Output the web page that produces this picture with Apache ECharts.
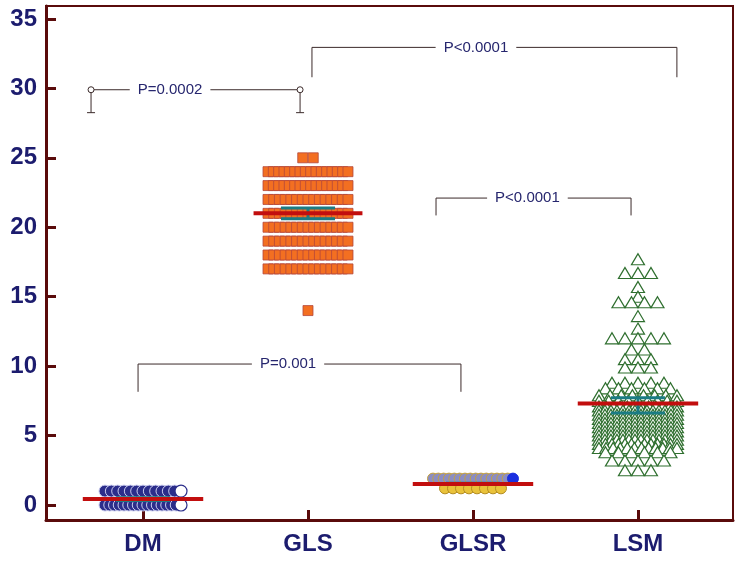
<!DOCTYPE html>
<html><head><meta charset="utf-8">
<script src="https://cdn.jsdelivr.net/npm/echarts@6/dist/echarts.min.js"></script>
<style>html,body{margin:0;padding:0;background:#fff}#c{width:735px;height:563px}</style>
</head><body><div id="c"></div>
<script>
// ---------- data ----------
const categories = ['DM', 'GLS', 'GLSR', 'LSM'];
const yTickValues = [0, 5, 10, 15, 20, 25, 30, 35];

const dmValues = [
  1,1,1,1,1,1,1,1,1,1,1,1,1,
  0,0,0,0,0,0,0,0,0,0,0,0,0,0,0,0,0
];
const glsValues = [
  25,25,
  24,24,24,24,24,24,24,24,24,24,24,24,24,24,24,24,
  23,23,23,23,23,23,23,23,23,23,23,23,23,23,23,23,
  22,22,22,22,22,22,22,22,22,22,22,22,22,22,22,
  21,21,21,21,21,21,21,21,21,21,21,21,21,21,21,
  20,20,20,20,20,20,20,20,20,20,20,20,20,20,20,
  19,19,19,19,19,19,19,19,19,19,19,19,19,19,19,
  18,18,18,18,18,18,18,18,18,18,18,18,18,18,18,
  17,17,17,17,17,17,17,17,17,17,17,17,17,17,17,
  14
];
const glsrValues = [
  1.2,1.2,1.2,1.2,1.2,1.2,1.2,1.2,
  1.9,1.9,1.9,1.9,1.9,1.9,1.9,1.9,1.9,1.9,1.9,1.9,1.9,1.9,1.9,1.9
];
const lsmValues = [
  17.7,
  16.7,16.7,16.7,
  15.7,
  15.0,
  14.6,14.6,14.6,14.6,
  13.6,
  12.7,
  12.0,12.0,12.0,12.0,12.0,
  11.2,11.2,
  10.5,10.5,10.5,
  9.9,9.9,9.9,
  8.8,8.8,8.8,8.8,8.8,
  8.4,8.4,8.4,8.4,8.4,8.4,
  7.9,7.9,7.9,7.9,7.9,7.9,7.9,7.9,
  7.5,7.5,7.5,7.5,7.5,7.5,7.5,7.5,7.5,
  7.1,7.1,7.1,7.1,7.1,7.1,7.1,7.1,7.1,7.1,7.1,7.1,
  6.8,6.8,6.8,6.8,6.8,6.8,6.8,6.8,6.8,6.8,6.8,6.8,6.8,6.8,
  6.5,6.5,6.5,6.5,6.5,6.5,6.5,6.5,6.5,6.5,6.5,6.5,6.5,6.5,
  6.2,6.2,6.2,6.2,6.2,6.2,6.2,6.2,6.2,6.2,6.2,6.2,6.2,6.2,
  5.9,5.9,5.9,5.9,5.9,5.9,5.9,5.9,5.9,5.9,5.9,5.9,5.9,5.9,
  5.6,5.6,5.6,5.6,5.6,5.6,5.6,5.6,5.6,5.6,5.6,5.6,5.6,5.6,
  5.3,5.3,5.3,5.3,5.3,5.3,5.3,5.3,5.3,5.3,5.3,5.3,5.3,5.3,
  5.0,5.0,5.0,5.0,5.0,5.0,5.0,5.0,5.0,5.0,5.0,5.0,5.0,5.0,
  4.7,4.7,4.7,4.7,4.7,4.7,4.7,4.7,4.7,4.7,4.7,4.7,4.7,4.7,
  4.4,4.4,4.4,4.4,4.4,4.4,4.4,4.4,4.4,4.4,4.4,4.4,4.4,
  4.1,4.1,4.1,4.1,4.1,4.1,4.1,4.1,4.1,4.1,4.1,4.1,
  3.8,3.8,3.8,3.8,3.8,3.8,
  3.2,3.2,3.2,3.2,3.2,
  2.5,2.5,2.5
];
const meanValues = [0.43, 21.0, 1.52, 7.3];
const ciLowValues = [0.33, 20.62, 1.48, 6.62];
const ciHighValues = [0.53, 21.38, 1.56, 7.72];
const pLabels = ['P=0.0002', 'P<0.0001', 'P<0.0001', 'P=0.001'];

// ---------- layout / style ----------
const PX_PER_UNIT = 165;
const MAROON = '#5a0b0b';
const NAVY = '#1c1c6e';
const bracketLayout = [
  { x1: 0.685, x2: 1.952, y: 29.9, drop: 28.25, tx: 1.164, caps: true },
  { x1: 2.024, x2: 4.236, y: 32.95, drop: 30.8, tx: 3.018 },
  { x1: 2.776, x2: 3.958, y: 22.1, drop: 20.85, tx: 3.33 },
  { x1: 0.97, x2: 2.927, y: 10.15, drop: 8.15, tx: 1.879 }
];

// beeswarm-like spreading: equal values are laid side by side around the category centre
function swarm(values, center, maxStepPx, maxSpanPx) {
  const groups = new Map();
  values.forEach(v => {
    const k = v.toFixed(3);
    if (!groups.has(k)) groups.set(k, []);
    groups.get(k).push(v);
  });
  const keys = Array.from(groups.keys()).sort((a, b) => parseFloat(b) - parseFloat(a));
  const out = [];
  keys.forEach(k => {
    const arr = groups.get(k);
    const n = arr.length;
    const step = n > 1 ? Math.min(maxStepPx, maxSpanPx / (n - 1)) : 0;
    arr.forEach((v, i) => {
      out.push({ value: [center + (i - (n - 1) / 2) * step / PX_PER_UNIT, v], last: i === n - 1, n: n });
    });
  });
  return out;
}

const dmPts = swarm(dmValues, 1, 8, 76).map(p => p.last
  ? { value: p.value, itemStyle: { color: '#ffffff', borderColor: '#2b2d8a', borderWidth: 1.2 } }
  : { value: p.value });
const glsPts = swarm(glsValues, 2, 10.5, 80).map(p => ({ value: p.value }));
const glsrAll = swarm(glsrValues, 3, 8, 80);
const glsrLow = glsrAll.filter(p => p.value[1] < 1.5).map(p => ({ value: p.value }));
const glsrHigh = glsrAll.filter(p => p.value[1] >= 1.5).map(p => p.last
  ? { value: p.value, itemStyle: { color: '#1a2fe0', borderColor: '#1a2fe0' } }
  : { value: p.value });
const lsmPts = swarm(lsmValues, 4, 13, 78).map(p => ({ value: p.value }));

const summaryData = categories.map((c, i) => [i + 1, meanValues[i], ciLowValues[i], ciHighValues[i], i === 1 ? 0.33 : 0.365]);
const bracketData = bracketLayout.map((b, i) => [b.x1, b.x2, b.y, b.drop, b.tx, i]);

const measureCtx = document.createElement('canvas').getContext('2d');
const LABEL_FONT = '15px "Liberation Sans", Arial, sans-serif';
measureCtx.font = LABEL_FONT;

const chart = echarts.init(document.getElementById('c'), null, { renderer: 'canvas' });
chart.setOption({
  animation: false,
  backgroundColor: '#ffffff',
  grid: { left: 46, right: 2, top: 6, bottom: 43, show: true, borderColor: MAROON, borderWidth: 2, backgroundColor: 'transparent' },
  xAxis: {
    type: 'value', min: 0.412, max: 4.576,
    splitLine: { show: false },
    axisLine: { show: true, onZero: false, lineStyle: { color: MAROON, width: 3 } },
    axisTick: { show: true, inside: true, length: 10, customValues: [1, 2, 3, 4], lineStyle: { color: MAROON, width: 3 } },
    axisLabel: {
      customValues: [1, 2, 3, 4], margin: 12,
      formatter: v => categories[Math.round(v) - 1] || '',
      color: NAVY, fontSize: 24, fontWeight: 'bold', fontFamily: '"Liberation Sans", Arial, sans-serif'
    }
  },
  yAxis: {
    type: 'value', min: -1.08, max: 35.93,
    splitLine: { show: false },
    axisLine: { show: true, onZero: false, lineStyle: { color: MAROON, width: 3 } },
    axisTick: { show: true, inside: true, length: 10, customValues: yTickValues, lineStyle: { color: MAROON, width: 3 } },
    axisLabel: {
      customValues: yTickValues, margin: 9,
      color: NAVY, fontSize: 24, fontWeight: 'bold', fontFamily: '"Liberation Sans", Arial, sans-serif'
    }
  },
  series: [
    { type: 'scatter', name: 'DM', data: dmPts, symbol: 'circle', symbolSize: 12, z: 3,
      itemStyle: { color: '#2b2d8a', borderColor: '#c9cbee', borderWidth: 1, opacity: 1 } },
    { type: 'scatter', name: 'GLS', data: glsPts, symbol: 'rect', symbolSize: [10, 10], z: 3,
      itemStyle: { color: '#f36f21', borderColor: '#b4473c', borderWidth: 0.8, opacity: 1 } },
    { type: 'scatter', name: 'GLSR-low', data: glsrLow, symbol: 'circle', symbolSize: 11, z: 3,
      itemStyle: { color: '#e9c23a', borderColor: '#b38c22', borderWidth: 1, opacity: 1 } },
    { type: 'scatter', name: 'GLSR', data: glsrHigh, symbol: 'circle', symbolSize: 11, z: 3,
      itemStyle: { color: '#8b8dc2', borderColor: '#c7a23a', borderWidth: 1, opacity: 1 } },
    { type: 'scatter', name: 'LSM', data: lsmPts, symbol: 'triangle', symbolSize: [13, 11], z: 3,
      itemStyle: { color: '#ffffff', borderColor: '#2f6f2f', borderWidth: 1.2, opacity: 1 } },
    { type: 'custom', name: 'summary', z: 5, data: summaryData,
      renderItem: (params, api) => {
        const c = api.value(0), m = api.value(1), lo = api.value(2), hi = api.value(3), hw = api.value(4);
        const ciHw = 27 / PX_PER_UNIT;
        const a = api.coord([c - ciHw, hi]), b = api.coord([c + ciHw, hi]);
        const d = api.coord([c - ciHw, lo]), e = api.coord([c + ciHw, lo]);
        const p1 = api.coord([c - hw, m]), p2 = api.coord([c + hw, m]);
        const teal = { stroke: '#1b7c84', lineWidth: 3 };
        return { type: 'group', children: [
          { type: 'line', shape: { x1: a[0], y1: a[1], x2: b[0], y2: b[1] }, style: teal },
          { type: 'line', shape: { x1: d[0], y1: d[1], x2: e[0], y2: e[1] }, style: teal },
          { type: 'line', shape: { x1: (a[0] + b[0]) / 2, y1: a[1], x2: (a[0] + b[0]) / 2, y2: d[1] }, style: teal },
          { type: 'line', shape: { x1: p1[0], y1: p1[1], x2: p2[0], y2: p2[1] }, style: { stroke: '#c20e0e', lineWidth: 4 } }
        ] };
      } },
    { type: 'custom', name: 'brackets', z: 6, data: bracketData,
      renderItem: (params, api) => {
        const idx = api.value(5);
        const lay = bracketLayout[idx];
        const label = pLabels[idx];
        const L = api.coord([api.value(0), api.value(2)]);
        const R = api.coord([api.value(1), api.value(2)]);
        const Ld = api.coord([api.value(0), api.value(3)]);
        const T = api.coord([api.value(4), api.value(2)]);
        const w = measureCtx.measureText(label).width;
        const gap = w / 2 + 8;
        const ls = { stroke: '#3b2a2a', lineWidth: 1 };
        const ch = [
          { type: 'line', shape: { x1: L[0], y1: L[1], x2: T[0] - gap, y2: L[1] }, style: ls },
          { type: 'line', shape: { x1: T[0] + gap, y1: L[1], x2: R[0], y2: R[1] }, style: ls },
          { type: 'line', shape: { x1: L[0], y1: L[1], x2: L[0], y2: Ld[1] }, style: ls },
          { type: 'line', shape: { x1: R[0], y1: R[1], x2: R[0], y2: Ld[1] }, style: ls },
          { type: 'text', x: T[0], y: T[1], style: { text: label, fill: '#26266e', font: LABEL_FONT, align: 'center', verticalAlign: 'middle' } }
        ];
        if (lay.caps) {
          [L[0], R[0]].forEach(x => {
            ch.push({ type: 'line', shape: { x1: x - 4, y1: Ld[1], x2: x + 4, y2: Ld[1] }, style: ls });
            ch.push({ type: 'circle', shape: { cx: x, cy: L[1], r: 3 }, style: { fill: '#ffffff', stroke: '#3b2a2a', lineWidth: 1 } });
          });
        }
        return { type: 'group', children: ch };
      } }
  ]
});
</script>
</body></html>
